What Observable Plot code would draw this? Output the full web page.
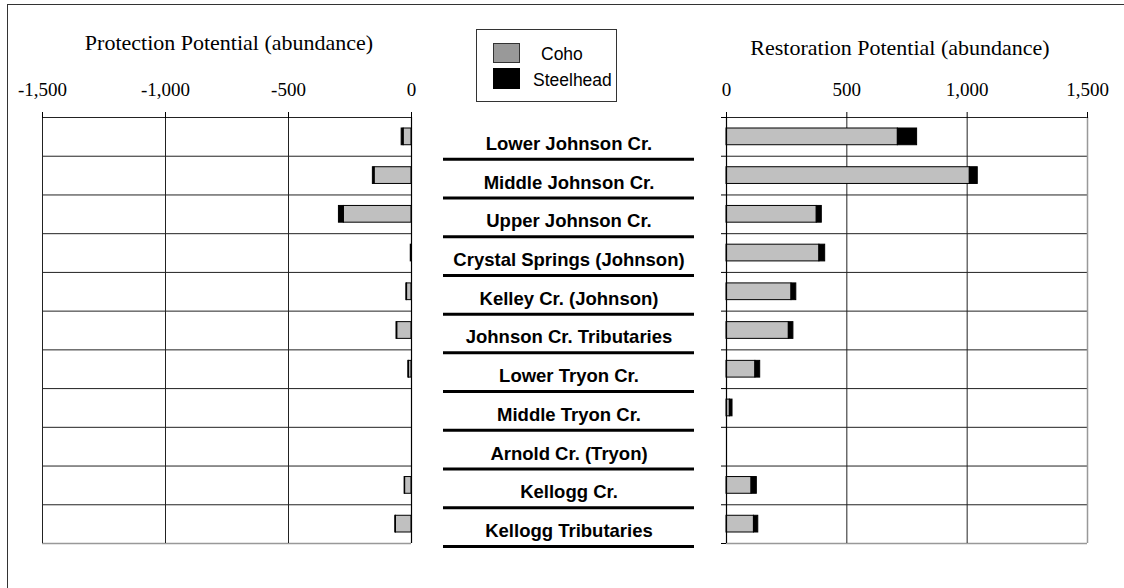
<!DOCTYPE html>
<html>
<head>
<meta charset="utf-8">
<script src="https://cdn.jsdelivr.net/npm/d3@7"></script>
<script src="https://cdn.jsdelivr.net/npm/@observablehq/plot@0.6"></script>
<style>
  html, body { margin: 0; padding: 0; background: #fff; overflow: hidden; }
  #wrap { position: relative; width: 1124px; height: 588px; }
  #frame { position: absolute; left: 7px; top: 4px; width: 1130px; height: 600px; border: 1.5px solid #333; box-sizing: border-box; }
  .panel { position: absolute; top: 0; }
  .title { position: absolute; font-family: "Liberation Serif", "Times New Roman", serif; font-size: 22px; color: #000; white-space: nowrap; transform: translateX(-50%); }
  #legend { position: absolute; left: 476px; top: 29px; width: 141px; height: 73px; border: 1px solid #333; box-sizing: border-box; font-family: "Liberation Sans", Arial, sans-serif; font-size: 17.5px; }
  .sw { position: absolute; left: 16px; width: 27px; height: 20px; box-sizing: border-box; border: 1px solid #333; }
  .lt { position: absolute; line-height: 20px; white-space: nowrap; }
</style>
</head>
<body>
<div id="wrap">
  <div id="frame"></div>
  <div class="title" style="left:229px; top:30px;">Protection Potential (abundance)</div>
  <div class="title" style="left:900px; top:35px;">Restoration Potential (abundance)</div>
  <div id="legend">
    <div class="sw" style="top:13px; background:#999;"></div>
    <div class="lt" style="left:64px; top:14px;">Coho</div>
    <div class="sw" style="top:38px; height:21px; background:#000; border-color:#000;"></div>
    <div class="lt" style="left:56px; top:40px;">Steelhead</div>
  </div>
  <div id="left" class="panel" style="left:0px;"></div>
  <div id="mid" class="panel" style="left:430px;"></div>
  <div id="right" class="panel" style="left:700px;"></div>
</div>
<script>
const names = ["Lower Johnson Cr.", "Middle Johnson Cr.", "Upper Johnson Cr.", "Crystal Springs (Johnson)", "Kelley Cr. (Johnson)", "Johnson Cr. Tributaries", "Lower Tryon Cr.", "Middle Tryon Cr.", "Arnold Cr. (Tryon)", "Kellogg Cr.", "Kellogg Tributaries"];
const protectionCoho = [32, 150, 275, 0, 18, 58, 10, 0, 0, 26, 63];
const protectionSteelhead = [8, 7, 20, 3, 3, 3, 3, 0, 0, 2, 3];
const restorationCoho = [712, 1011, 375, 386, 270, 259, 120, 14, 0, 104, 114];
const restorationSteelhead = [80, 33, 21, 24, 20, 19, 20, 11, 0, 22, 18];
const leftTicks = [-1500, -1000, -500, 0];
const rightTicks = [0, 500, 1000, 1500];

const rows = names.map((name, i) => ({
  name, i,
  pc: protectionCoho[i], ps: protectionSteelhead[i],
  rc: restorationCoho[i], rs: restorationSteelhead[i]
}));
const bounds = d3.range(0, names.length + 1);
const fmt = d => d.toLocaleString("en-US");
const H = 588, MT = 117, MB = 45;
const yScale = {domain: [0, names.length], reverse: true, axis: null};
const serif = {fontFamily: "'Liberation Serif', 'Times New Roman', serif", fontSize: "19px", overflow: "visible", background: "transparent"};
const barInset = {insetTop: 11, insetBottom: 11};

const left = Plot.plot({
  width: 440, height: H, marginLeft: 42, marginRight: 29, marginTop: MT, marginBottom: MB,
  style: serif,
  x: {domain: [-1500, 0], axis: null},
  y: yScale,
  marks: [
    Plot.ruleY(bounds.slice(0, -1), {y: d => d, stroke: "#222", strokeWidth: 1}),
    Plot.ruleY([names.length], {y: d => d, stroke: "#999", strokeWidth: 1.5}),
    Plot.ruleX([-1500, -1000, -500], {x: d => d, stroke: "#222", strokeWidth: 1}),
    Plot.axisX({anchor: "top", ticks: leftTicks, tickSize: 6, tickPadding: 16, tickFormat: fmt, label: null, stroke: "#000"}),
    Plot.rectX(rows.filter(d => d.pc > 0), {x1: 0, x2: d => -d.pc, y1: d => d.i, y2: d => d.i + 1, fill: "#c0c0c0", stroke: "#000", strokeWidth: 1, ...barInset}),
    Plot.rectX(rows.filter(d => d.ps > 0), {x1: d => -d.pc, x2: d => -(d.pc + d.ps), y1: d => d.i, y2: d => d.i + 1, fill: "#000", stroke: "#000", strokeWidth: 1, ...barInset}),
    Plot.ruleX([0], {x: d => d, stroke: "#000", strokeWidth: 1.2})
  ]
});
document.getElementById("left").append(left);

const mid = Plot.plot({
  width: 280, height: H, marginLeft: 13, marginRight: 16, marginTop: MT, marginBottom: MB,
  style: {fontFamily: "'Liberation Sans', Arial, sans-serif", overflow: "visible", background: "transparent"},
  y: yScale,
  marks: [
    Plot.text(rows, {y: d => d.i + 0.5, text: "name", dy: 7, fontSize: 18.5, fontWeight: "bold", fill: "#000"}),
    Plot.ruleY(bounds.slice(1), {y: d => d, dy: 3, stroke: "#000", strokeWidth: 3})
  ]
});
document.getElementById("mid").append(mid);

const right = Plot.plot({
  width: 424, height: H, marginLeft: 26, marginRight: 37, marginTop: MT, marginBottom: MB,
  style: serif,
  x: {domain: [0, 1500], axis: null},
  y: yScale,
  marks: [
    Plot.ruleY(bounds.slice(0, -1), {y: d => d, stroke: "#222", strokeWidth: 1}),
    Plot.ruleY([names.length], {y: d => d, stroke: "#999", strokeWidth: 1.5}),
    Plot.ruleX([500, 1000], {x: d => d, stroke: "#222", strokeWidth: 1}),
    Plot.ruleX([1500], {x: d => d, stroke: "#999", strokeWidth: 1.5}),
    Plot.axisX({anchor: "top", ticks: rightTicks, tickSize: 6, tickPadding: 16, tickFormat: fmt, label: null, stroke: "#000"}),
    Plot.axisY({anchor: "left", ticks: bounds, tickSize: 5, tickFormat: () => "", label: null, stroke: "#000"}),
    Plot.rectX(rows.filter(d => d.rc > 0), {x1: 0, x2: d => d.rc, y1: d => d.i, y2: d => d.i + 1, fill: "#c0c0c0", stroke: "#000", strokeWidth: 1, ...barInset}),
    Plot.rectX(rows.filter(d => d.rs > 0), {x1: d => d.rc, x2: d => d.rc + d.rs, y1: d => d.i, y2: d => d.i + 1, fill: "#000", stroke: "#000", strokeWidth: 1, ...barInset}),
    Plot.ruleX([0], {x: d => d, stroke: "#000", strokeWidth: 1.2})
  ]
});
document.getElementById("right").append(right);
</script>
</body>
</html>
